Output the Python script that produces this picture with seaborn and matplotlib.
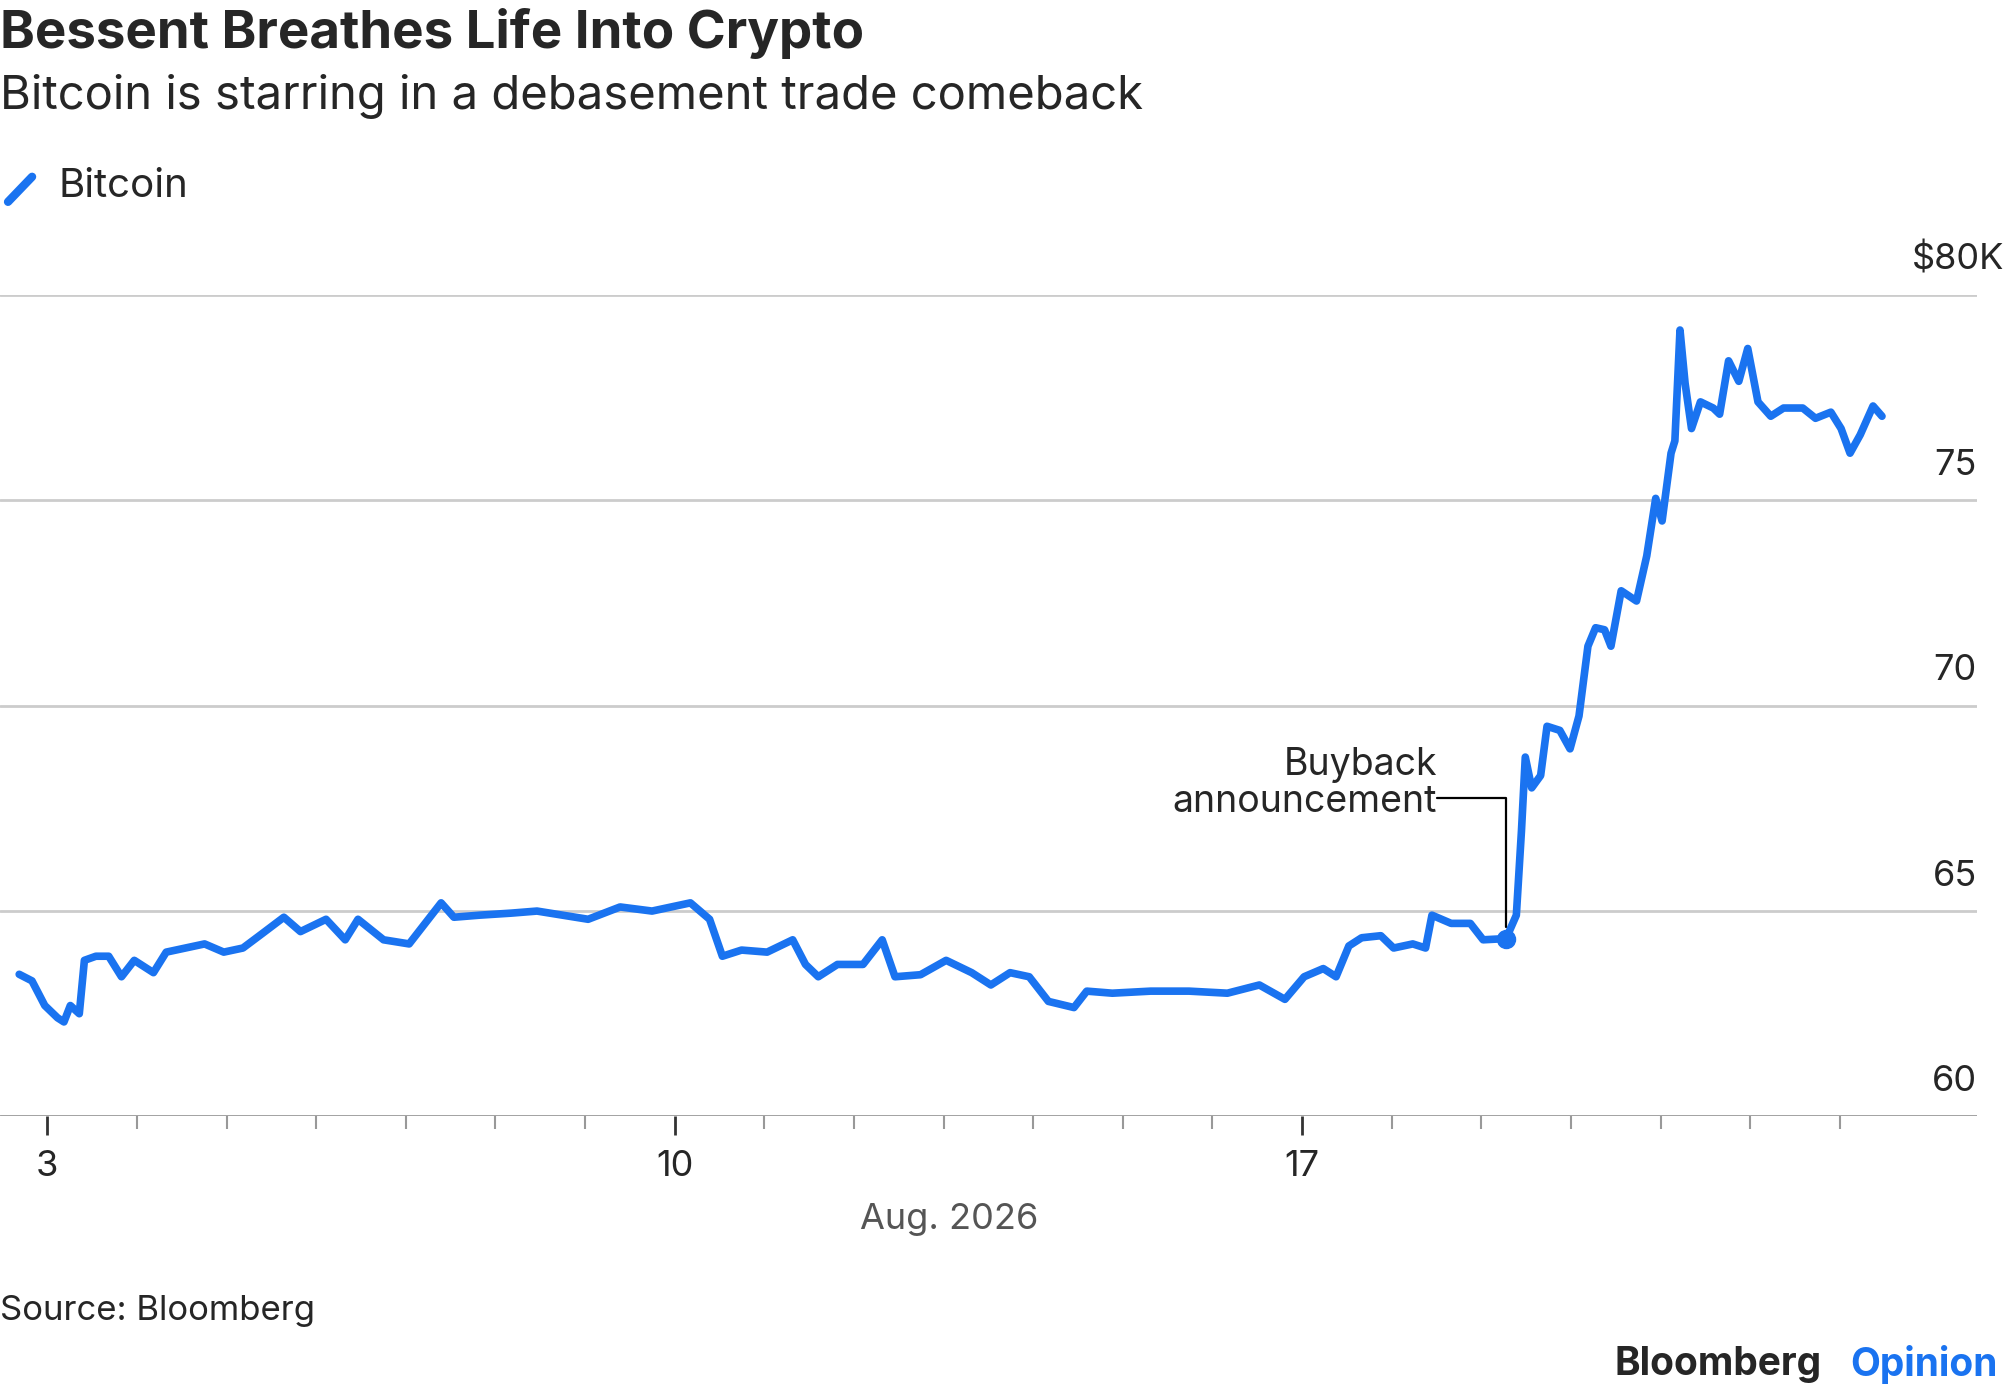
import matplotlib
matplotlib.use("Agg")
import matplotlib.pyplot as plt
import seaborn as sns
import pandas as pd
from matplotlib.lines import Line2D

px = [15,25,35,45,50,55,62,66,75,85,95,105,120,130,145,160,175,190,205,222,235,255,270,280,300,320,335,345,355,375,400,420,440,460,485,510,540,555,565,580,600,620,630,640,655,675,690,700,720,740,760,775,790,805,820,840,850,870,900,930,960,985,1005,1020,1035,1045,1055,1065,1080,1090,1105,1115,1120,1135,1150,1160,1178,1186,1190,1193,1198,1205,1210,1220,1228,1235,1242,1248,1255,1260,1268,1280,1288,1295,1300,1307,1310,1314,1318,1323,1330,1340,1345,1352,1360,1367,1375,1385,1395,1410,1420,1432,1440,1447,1455,1465,1472]
price = [63.46,63.3,62.7,62.4,62.3,62.7,62.5,63.8,63.9,63.9,63.4,63.8,63.5,64.0,64.1,64.2,64.0,64.1,64.45,64.85,64.5,64.8,64.3,64.8,64.3,64.2,64.8,65.2,64.85,64.9,64.95,65.0,64.9,64.8,65.1,65.0,65.2,64.8,63.9,64.05,64.0,64.3,63.7,63.4,63.7,63.7,64.3,63.4,63.45,63.8,63.5,63.2,63.5,63.4,62.8,62.65,63.05,63.0,63.05,63.05,63.0,63.2,62.85,63.4,63.6,63.4,64.15,64.35,64.4,64.1,64.2,64.1,64.9,64.7,64.7,64.3,64.33,64.9,66.95,68.75,68.0,68.3,69.5,69.4,68.95,69.75,71.45,71.9,71.85,71.45,72.8,72.55,73.65,75.05,74.5,76.15,76.45,79.15,77.85,76.75,77.4,77.25,77.1,78.4,77.9,78.7,77.4,77.05,77.25,77.25,77.0,77.15,76.75,76.15,76.6,77.3,77.05]
days = [3 + (x - 37) / 70.1 for x in px]
df = pd.DataFrame({"day": days, "price": price})

yticks = [60, 65, 70, 75, 80]
ylabels = ["60", "65", "70", "75", "$80K"]
xmajor = [3, 10, 17]
blue = "#1a73f0"

sns.set_theme(style="white")
plt.rcParams['font.family'] = ['Inter', 'DejaVu Sans']
fig = plt.figure(figsize=(20.05, 13.92), dpi=100)
ax = fig.add_axes([0.0, 0.198, 0.986, 0.59])
sns.lineplot(data=df, x="day", y="price", ax=ax, color=blue, linewidth=5.5)
ax.set_xlim(2.472, 24.53)
ax.set_ylim(60, 80)
for s in ax.spines.values():
    s.set_visible(False)
for v in yticks[1:]:
    ax.axhline(v, color="#cccccc", lw=2, zorder=0)
ax.axhline(60, color="#999999", lw=2, zorder=0)
for v, l in zip(yticks, ylabels):
    ax.text(1.0 if v < 80 else 1.014, v + 0.45, l, transform=ax.get_yaxis_transform(), ha="right", va="bottom", fontsize=26)
ax.set_yticks([])
ax.set_xticks(xmajor)
ax.set_xticklabels([str(d) for d in xmajor], fontsize=26)
ax.set_xticks(range(4, 24), minor=True)
ax.tick_params(axis="x", which="major", length=14, width=2, color="#333333", pad=10, bottom=True)
ax.tick_params(axis="x", which="minor", length=9, width=1.5, color="#999999", bottom=True)
ax.set_xlabel("Aug. 2026", fontsize=26, color="#555555")
ax.xaxis.set_label_coords(0.48, -0.105)
ax.set_ylabel("")

# annotation
mx = 3 + (1178 - 37) / 70.1
ax.plot([mx], [64.33], "o", color=blue, ms=13)
ly = 80 - (624 - 231) / 32.1
lx = 3 + (1124 - 37) / 70.1
ax.plot([lx, mx, mx], [ly, ly, 64.6], color="black", lw=1.6)
ax.text(lx, ly - 0.55, "Buyback\nannouncement", ha="right", va="bottom", fontsize=27, linespacing=1.05)

fig.text(0.0, 0.976, "Bessent Breathes Life Into Crypto", fontsize=38, fontweight="bold", va="center")
fig.text(0.0, 0.931, "Bitcoin is starring in a debasement trade comeback", fontsize=34, va="center")
fig.add_artist(Line2D([0.004, 0.016], [0.855, 0.873], color=blue, lw=6, transform=fig.transFigure))
fig.text(0.029, 0.866, "Bitcoin", fontsize=29, va="center")
fig.text(0.0, 0.058, "Source: Bloomberg", fontsize=25, va="center")
fig.text(0.805, 0.020, "Bloomberg", fontsize=28, fontweight="bold", va="center")
fig.text(0.923, 0.020, "Opinion", fontsize=28, fontweight="bold", color=blue, va="center")
fig.savefig("out.png", dpi=100)
